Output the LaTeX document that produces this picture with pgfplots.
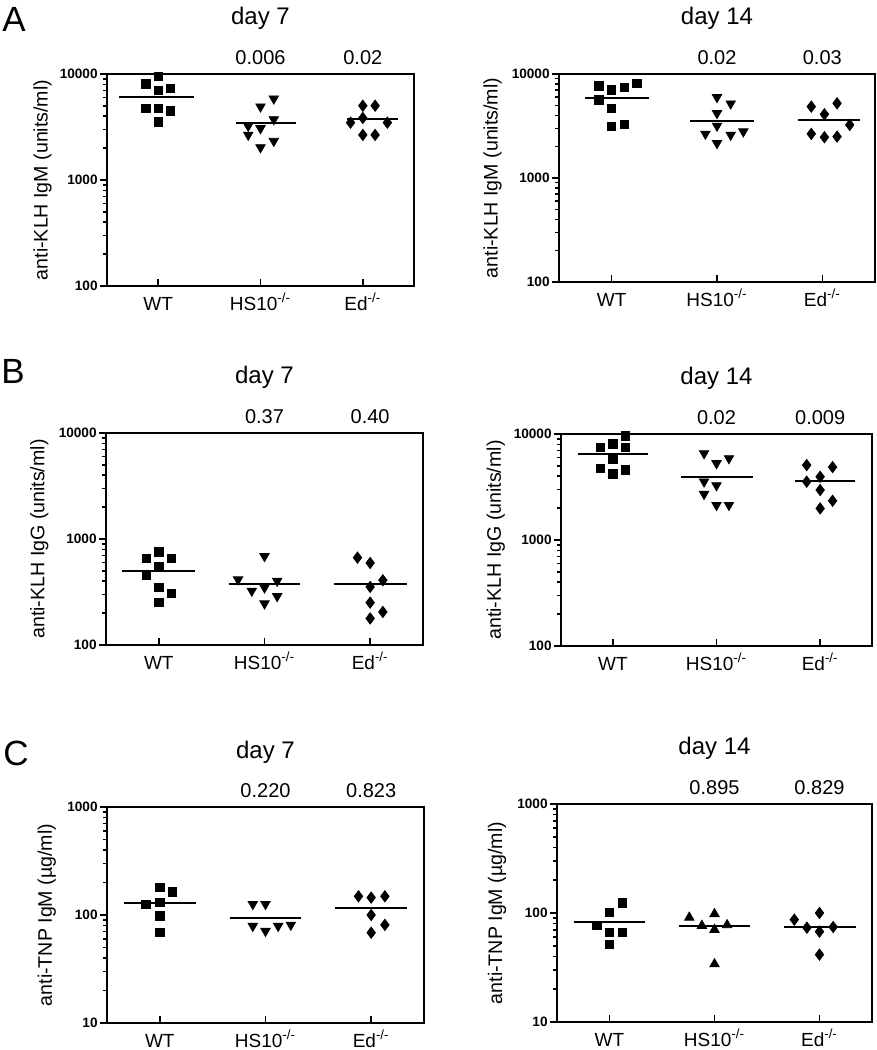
\documentclass[border=0pt]{standalone}
\usepackage{fontspec}
\setmainfont{Liberation Sans}
\usepackage{pgfplots}
\pgfplotsset{compat=1.18}
\newcommand{\yt}[1]{{\fontsize{6.8}{8}\selectfont\bfseries #1}}

\pgfplotsset{
  panel/.style={scale only axis, anchor=south west, xmin=-0.5, xmax=2.5,
    xtick={0,1,2}, xticklabels={WT,HS10\textsuperscript{-/-},Ed\textsuperscript{-/-}},
    tick align=inside, xtick pos=left, ytick pos=left,
    major tick length=3.5pt, minor tick length=2pt,
    axis line style={line width=1pt}, tick style={black,line width=0.7pt},
    major y tick style={xshift=-3.5pt}, minor y tick style={xshift=-2pt},
    xticklabel style={font=\fontsize{9.5}{11}\selectfont, anchor=base, yshift=-12.3pt},
    yticklabel style={inner sep=0pt, xshift=-4.5pt},
    ylabel style={font=\fontsize{9.8}{11}\selectfont, at={(axis description cs:-0.21,0.5)}, anchor=center},
    clip mode=individual},
  kl/.style={ymin=100, ymax=10000, ytick={100,1000,10000}, yticklabels={\yt{100},\yt{1000},\yt{10000}},
    minor ytick={200,300,400,500,600,700,800,900,2000,3000,4000,5000,6000,7000,8000,9000}},
  tnp/.style={ymin=10, ymax=1000, ytick={10,100,1000}, yticklabels={\yt{10},\yt{100},\yt{1000}},
    minor ytick={20,30,40,50,60,70,80,90,200,300,400,500,600,700,800,900},
    ylabel style={at={(axis description cs:-0.19,0.5)}}},
  wt/.style={only marks, mark=square*, mark size=2.1pt, black},
  hs/.style={only marks, mark=triangle*, mark size=2.7pt, mark options={rotate=180}, black},
  hsup/.style={only marks, mark=triangle*, mark size=2.7pt, black},
  ed/.style={only marks, mark=diamond*, mark size=2.8pt, black},
  mean/.style={black, line width=1pt, no marks},
}
\tikzset{
  ttl/.style={font=\fontsize{12}{14}\selectfont, anchor=base},
  pv/.style={font=\fontsize{10}{12}\selectfont, anchor=base},
  lett/.style={font=\fontsize{17.5}{20}\selectfont, anchor=center},
}

\begin{document}
\begin{tikzpicture}
\path[use as bounding box] (0,0) rectangle (438.5pt,525pt);

\node[lett] at (7pt,515.5pt) {A};
\node[lett] at (6.5pt,339.5pt) {B};
\node[lett] at (8pt,148.5pt) {C};

% A, day 7
\begin{semilogyaxis}[panel, kl, at={(53.5pt,382pt)}, width=153.5pt, height=106pt,
  ylabel={anti-KLH IgM (units/ml)}]
\addplot[wt] coordinates {(0,9550)(-0.12,8050)(0.12,7330)(0,6960)(-0.12,4710)(0,4710)(0.12,4480)(0,3520)};
\addplot[hs] coordinates {(1,4920)(1.13,5850)(1.13,3730)(0.88,3230)(1,3070)(0.88,2660)(1.13,2330)(1,2030)};
\addplot[ed] coordinates {(2,5020)(2.12,5020)(1.88,3475)(2,3846)(2.24,3475)(2,2660)(2.12,2660)};
\addplot[mean] coordinates {(-0.38,6110)(0.35,6110)};
\addplot[mean] coordinates {(0.76,3425)(1.35,3425)};
\addplot[mean] coordinates {(1.85,3760)(2.345,3760)};
\node[ttl] at ([yshift=24.5pt]rel axis cs:0.5,1) {day 7};
\node[pv] at ([yshift=4.75pt]axis cs:1,10000) {0.006};
\node[pv] at ([yshift=4.75pt]axis cs:2,10000) {0.02};
\end{semilogyaxis}

% A, day 14
\begin{semilogyaxis}[panel, kl, at={(279.5pt,384pt)}, width=158pt, height=104pt,
  ylabel={anti-KLH IgM (units/ml)}]
\addplot[wt] coordinates {(-0.12,7670)(0,7020)(0.12,7390)(0.24,8130)(-0.12,5630)(0,4650)(0,3120)(0.12,3270)};
\addplot[hs] coordinates {(1,5970)(1.13,5190)(1,4190)(1,3170)(0.89,2656)(1.13,2596)(1.25,2793)(1,2157)};
\addplot[ed] coordinates {(1.895,4855)(2.14,5225)(2.02,4100)(2.26,3240)(1.895,2656)(2.02,2466)(2.14,2500)};
\addplot[mean] coordinates {(-0.25,5840)(0.35,5840)};
\addplot[mean] coordinates {(0.74,3540)(1.35,3540)};
\addplot[mean] coordinates {(1.77,3613)(2.36,3613)};
\node[ttl] at ([yshift=24.5pt]rel axis cs:0.5,1) {day 14};
\node[pv] at ([yshift=4.75pt]axis cs:1,10000) {0.02};
\node[pv] at ([yshift=4.75pt]axis cs:2,10000) {0.03};
\end{semilogyaxis}

% B, day 7
\begin{semilogyaxis}[panel, kl, at={(53pt,202.5pt)}, width=158.5pt, height=106pt,
  ylabel={anti-KLH IgG (units/ml)}]
\addplot[wt] coordinates {(-0.12,653)(0,755)(0.12,653)(0,553)(-0.12,455)(0,348)(0.12,306)(0,251)};
\addplot[hs] coordinates {(1,687)(0.75,414)(1.12,402)(0.88,324)(1,348)(1.12,288)(1,246)};
\addplot[ed] coordinates {(1.88,667)(2,594)(2.12,408)(2,353)(2,251)(2.12,205)(2,178)};
\addplot[mean] coordinates {(-0.35,500)(0.34,500)};
\addplot[mean] coordinates {(0.66,380)(1.34,380)};
\addplot[mean] coordinates {(1.66,380)(2.35,380)};
\node[ttl] at ([yshift=24.5pt]rel axis cs:0.5,1) {day 7};
\node[pv] at ([yshift=4.75pt]axis cs:1,10000) {0.37};
\node[pv] at ([yshift=4.75pt]axis cs:2,10000) {0.40};
\end{semilogyaxis}

% B, day 14
\begin{semilogyaxis}[panel, kl, at={(280.5pt,202pt)}, width=155.5pt, height=106pt,
  ylabel={anti-KLH IgG (units/ml)}]
\addplot[wt] coordinates {(0.12,9580)(-0.12,7480)(0,8040)(0.12,7480)(0,5770)(-0.12,4740)(0.12,4570)(0,4190)};
\addplot[hs] coordinates {(0.88,6560)(1,5285)(1.12,5890)(0.88,3550)(1,3272)(0.88,2710)(1,2133)(1.12,2133)};
\addplot[ed] coordinates {(1.87,5090)(2.12,4872)(2,3950)(1.87,3550)(2,2960)(2.12,2344)(2,1985)};
\addplot[mean] coordinates {(-0.34,6470)(0.34,6470)};
\addplot[mean] coordinates {(0.66,3926)(1.35,3926)};
\addplot[mean] coordinates {(1.76,3575)(2.34,3575)};
\node[ttl] at ([yshift=24.5pt]rel axis cs:0.5,1) {day 14};
\node[pv] at ([yshift=4.75pt]axis cs:1,10000) {0.02};
\node[pv] at ([yshift=4.75pt]axis cs:2,10000) {0.009};
\end{semilogyaxis}

% C, day 7
\begin{semilogyaxis}[panel, tnp, at={(53.5pt,13.5pt)}, width=158.5pt, height=108pt,
  ylabel={anti-TNP IgM (µg/ml)}]
\addplot[wt] coordinates {(0,180)(0.12,164)(-0.13,125)(0,131)(0,98)(0,68.6)};
\addplot[hs] coordinates {(0.88,126)(1,126)(0.88,79)(1,71)(1.12,79)(1.24,81)};
\addplot[ed] coordinates {(1.88,149)(2,145)(2.13,149)(2,100)(2.13,81)(2,68.6)};
\addplot[mean] coordinates {(-0.34,128)(0.34,128)};
\addplot[mean] coordinates {(0.66,93)(1.34,93)};
\addplot[mean] coordinates {(1.66,116)(2.34,116)};
\node[ttl] at ([yshift=24.5pt]rel axis cs:0.5,1) {day 7};
\node[pv] at ([yshift=4.75pt]axis cs:1,1000) {0.220};
\node[pv] at ([yshift=4.75pt]axis cs:2,1000) {0.823};
\end{semilogyaxis}

% C, day 14
\begin{semilogyaxis}[panel, tnp, at={(278.5pt,14pt)}, width=157.5pt, height=109pt,
  ylabel={anti-TNP IgM (µg/ml)}]
\addplot[wt] coordinates {(0.12,124)(0,101)(-0.12,76.5)(0,66.6)(0.12,66.6)(0,51.2)};
\addplot[hsup] coordinates {(0.76,91)(1,98)(0.88,76.5)(1,70.3)(1.12,77.6)(1,34)};
\addplot[ed] coordinates {(1.76,86.9)(2,100)(1.88,73.3)(2,67.4)(2.13,74.4)(2,41.5)};
\addplot[mean] coordinates {(-0.34,82)(0.34,82)};
\addplot[mean] coordinates {(0.66,75.5)(1.34,75.5)};
\addplot[mean] coordinates {(1.66,74)(2.35,74)};
\node[ttl] at ([yshift=24.5pt]rel axis cs:0.5,1) {day 14};
\node[pv] at ([yshift=4.75pt]axis cs:1,1000) {0.895};
\node[pv] at ([yshift=4.75pt]axis cs:2,1000) {0.829};
\end{semilogyaxis}
\end{tikzpicture}
\end{document}
